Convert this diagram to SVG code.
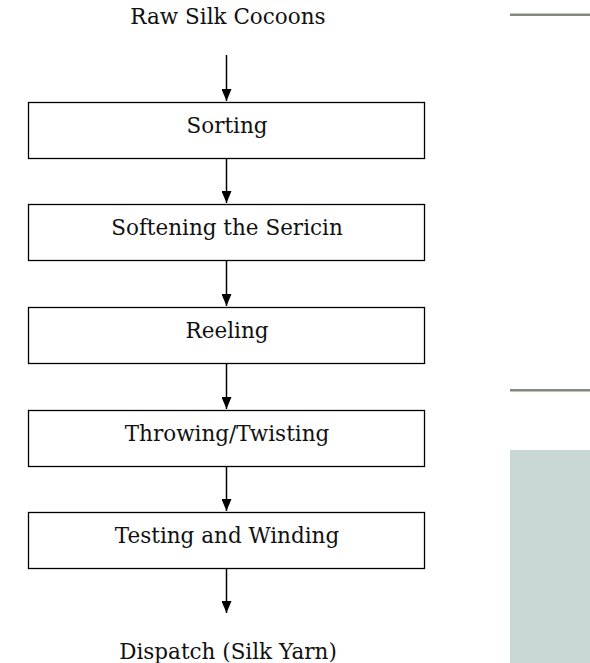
<svg xmlns="http://www.w3.org/2000/svg" width="590" height="663" viewBox="0 0 590 663">
<style>
.box{fill:#fff;stroke:#000;stroke-width:1.3}
.t{font-family:"DejaVu Serif","Liberation Serif",serif;font-size:21.5px;fill:#111;text-anchor:middle}
.c{stroke:#000;stroke-width:1.5;fill:none;marker-end:url(#ah)}
</style>
<defs>
<marker id="ah" markerWidth="12" markerHeight="10" refX="12" refY="5" orient="auto" markerUnits="userSpaceOnUse" viewBox="0 0 12 10">
<path d="M0,0 L12,5 L0,10 Z" fill="#000"/>
</marker>
</defs>
<rect x="0" y="0" width="590" height="663" fill="#fff"/>
<rect x="510" y="13.5" width="80" height="2.5" fill="#858a80"/>
<rect x="510" y="389" width="80" height="2.5" fill="#858a80"/>
<rect x="510" y="450" width="80" height="213" fill="#c9d8d5"/>
<g id="connectors">
<line class="c" x1="226.5" y1="55" x2="226.5" y2="101"/>
<line class="c" x1="226.5" y1="158" x2="226.5" y2="203"/>
<line class="c" x1="226.5" y1="260" x2="226.5" y2="306"/>
<line class="c" x1="226.5" y1="363" x2="226.5" y2="409"/>
<line class="c" x1="226.5" y1="466" x2="226.5" y2="511"/>
<line class="c" x1="226.5" y1="568" x2="226.5" y2="613"/>
</g>
<g id="start"><text class="t" x="228" y="24">Raw Silk Cocoons</text></g>
<g id="sorting"><rect class="box" x="28.5" y="102.5" width="396" height="56"/><text class="t" x="227" y="133">Sorting</text></g>
<g id="softening"><rect class="box" x="28.5" y="204.5" width="396" height="56"/><text class="t" x="227" y="235">Softening the Sericin</text></g>
<g id="reeling"><rect class="box" x="28.5" y="307.5" width="396" height="56"/><text class="t" x="227" y="338">Reeling</text></g>
<g id="throwing"><rect class="box" x="28.5" y="410.5" width="396" height="56"/><text class="t" x="227" y="441">Throwing/Twisting</text></g>
<g id="testing"><rect class="box" x="28.5" y="512.5" width="396" height="56"/><text class="t" x="227" y="543">Testing and Winding</text></g>
<g id="dispatch"><text class="t" x="228" y="659">Dispatch (Silk Yarn)</text></g>
</svg>
